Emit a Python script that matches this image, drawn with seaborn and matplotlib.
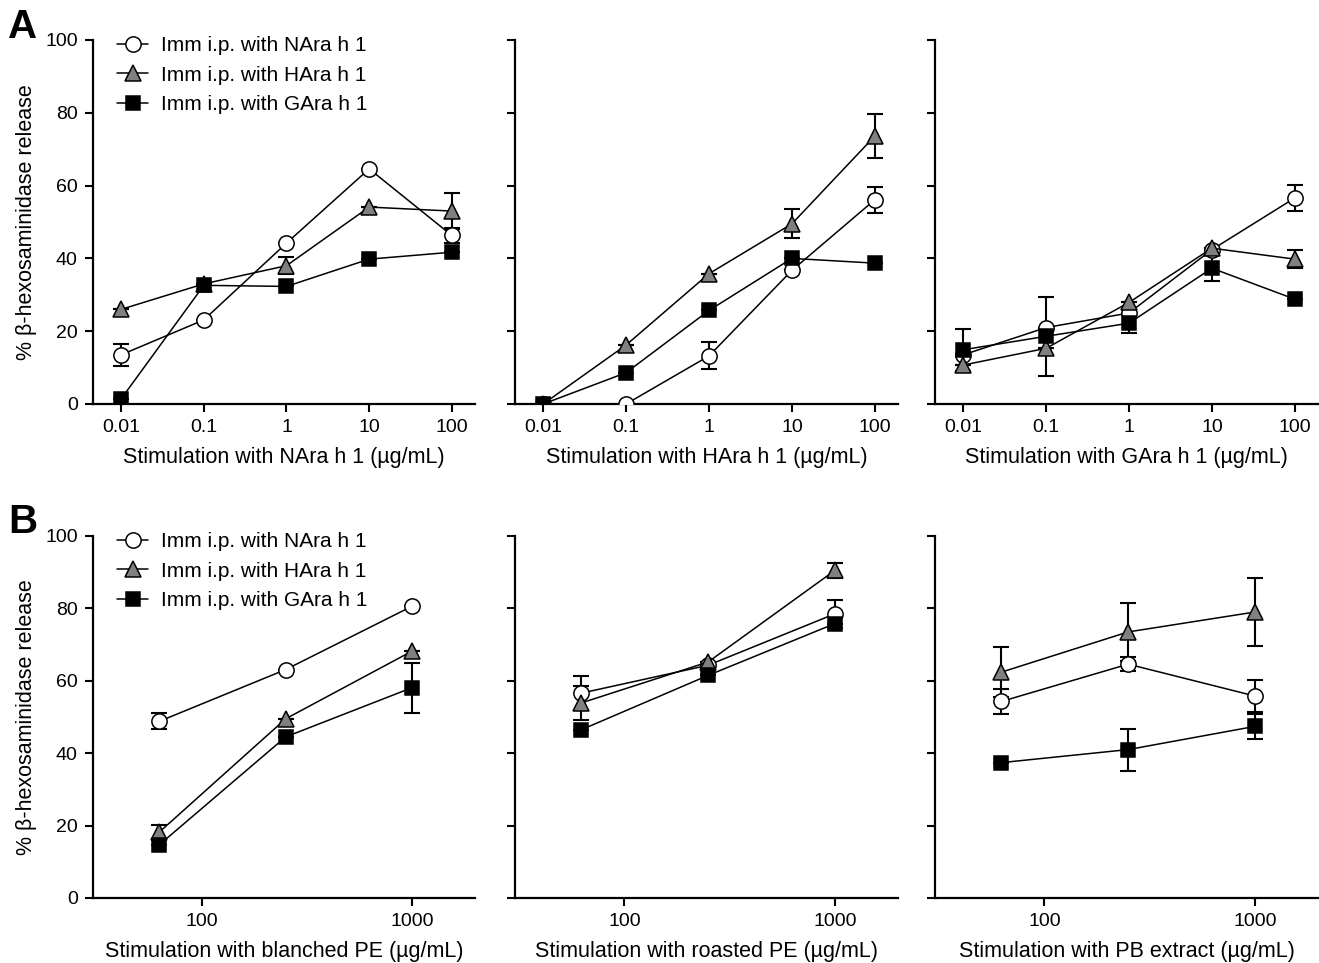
import numpy as np
import pandas as pd
import matplotlib
matplotlib.use("Agg")
import matplotlib.pyplot as plt
import seaborn as sns

sns.set_theme(style="ticks")
plt.rcParams['font.family'] = ['Liberation Sans', 'DejaVu Sans']
plt.rcParams['text.color'] = 'black'
plt.rcParams['axes.labelcolor'] = 'black'

# ---- data ----
conc_a = [0.01, 0.1, 1, 10, 100]
conc_b = [62.5, 250, 1000]
groups = ['Imm i.p. with NAra h 1', 'Imm i.p. with HAra h 1', 'Imm i.p. with GAra h 1']

# panel A: stimulation with NAra h 1 / HAra h 1 / GAra h 1
a1_mean = {'N': [13.5, 23.1, 44.2, 64.6, 46.3], 'H': [26.0, 33.0, 38.0, 54.1, 53.0], 'G': [1.4, 32.6, 32.3, 39.8, 41.7]}
a1_err = {'N': [3.0, 0, 0, 0, 2.0], 'H': [0, 0, 2.4, 0, 5.0], 'G': [0, 0, 0, 0, 0]}
a2_mean = {'N': [0.0, 0.0, 13.2, 36.7, 56.1], 'H': [0.0, 16.2, 35.8, 49.5, 73.6], 'G': [0.0, 8.6, 25.7, 40.0, 38.7]}
a2_err = {'N': [0, 0, 3.7, 0, 3.5], 'H': [0, 0, 0, 4.0, 6.0], 'G': [0, 0, 0, 0, 0]}
a3_mean = {'N': [13.5, 21.0, 25.0, 42.4, 56.6], 'H': [10.7, 15.3, 27.9, 42.8, 39.8], 'G': [14.9, 18.6, 22.2, 37.3, 28.8]}
a3_err = {'N': [0, 0, 0, 0, 3.5], 'H': [0, 0, 0, 0, 2.4], 'G': [5.7, 10.9, 2.7, 3.6, 0]}
# panel B: stimulation with blanched PE / roasted PE / PB extract
b1_mean = {'N': [48.8, 63.1, 80.6], 'H': [18.2, 49.5, 68.2], 'G': [14.7, 44.5, 58.1]}
b1_err = {'N': [2.2, 0, 0], 'H': [2.0, 0, 0], 'G': [0, 0, 6.9]}
b2_mean = {'N': [56.6, 64.3, 78.5], 'H': [53.9, 65.2, 90.5], 'G': [46.5, 61.5, 75.8]}
b2_err = {'N': [4.6, 0, 3.9], 'H': [4.8, 0, 2.0], 'G': [0, 0, 0]}
b3_mean = {'N': [54.3, 64.6, 55.8], 'H': [62.4, 73.5, 79.0], 'G': [37.4, 41.0, 47.4]}
b3_err = {'N': [3.5, 2.0, 4.5], 'H': [6.8, 8.0, 9.4], 'G': [0, 5.8, 3.5]}

xlabels_a = ['Stimulation with NAra h 1 (µg/mL)', 'Stimulation with HAra h 1 (µg/mL)',
             'Stimulation with GAra h 1 (µg/mL)']
xlabels_b = ['Stimulation with blanched PE (µg/mL)', 'Stimulation with roasted PE (µg/mL)',
             'Stimulation with PB extract (µg/mL)']

styles = {'N': ('o', 'white', 11), 'H': ('^', '#808080', 12), 'G': ('s', 'black', 10.5)}


def draw_panel(ax, conc, means, errs):
    for key, label in zip(['N', 'H', 'G'], groups):
        mk, fc, ms = styles[key]
        df = pd.DataFrame({'conc': conc, 'val': means[key]})
        ax.errorbar(conc, means[key], yerr=errs[key], fmt='none', ecolor='black',
                    elinewidth=1.5, capsize=6, capthick=1.5, zorder=2)
        sns.lineplot(data=df, x='conc', y='val', ax=ax, color='black', lw=1.1,
                     marker=mk, markersize=ms, markerfacecolor=fc,
                     markeredgecolor='black', markeredgewidth=1.1, label=label, zorder=3)


fig = plt.figure(figsize=(13.19, 9.63), dpi=100)
W, H = 1319, 963
lefts = [93, 515, 935]
right_ends = [475, 898, 1318]

rows = [
    (40, 404, conc_a, [(a1_mean, a1_err), (a2_mean, a2_err), (a3_mean, a3_err)], xlabels_a,
     (10 ** -2.34, 10 ** 2.28), conc_a, ['0.01', '0.1', '1', '10', '100']),
    (536, 898, conc_b, [(b1_mean, b1_err), (b2_mean, b2_err), (b3_mean, b3_err)], xlabels_b,
     (10 ** 1.48, 10 ** 3.3), [100, 1000], ['100', '1000']),
]

for r, (top, bot, conc, panels, xlabs, xlim, xt, xtl) in enumerate(rows):
    for i in range(3):
        ax = fig.add_axes([lefts[i] / W, 1 - bot / H, (right_ends[i] - lefts[i]) / W, (bot - top) / H])
        means, errs = panels[i]
        draw_panel(ax, conc, means, errs)
        ax.set_xscale('log')
        ax.set_xlim(*xlim)
        ax.set_ylim(0, 100)
        ax.set_xticks(xt)
        ax.set_xticklabels(xtl)
        ax.xaxis.set_minor_locator(matplotlib.ticker.NullLocator())
        ax.set_yticks([0, 20, 40, 60, 80, 100])
        sns.despine(ax=ax)
        for s in ['left', 'bottom']:
            ax.spines[s].set_linewidth(1.6)
            ax.spines[s].set_color('black')
        ax.tick_params(axis='both', direction='out', length=6, width=1.5, colors='black',
                       labelsize=14, pad=5)
        ax.set_xlabel(xlabs[i], fontsize=15.5, labelpad=8, color='black')
        if i == 0:
            ax.set_ylabel('% β-hexosaminidase release', fontsize=15.5, labelpad=6, color='black')
            leg = ax.legend(loc='upper left', bbox_to_anchor=(0.03, 1.045), frameon=False,
                            fontsize=15, handlelength=1.5, handletextpad=0.6, labelspacing=0.5,
                            borderaxespad=0.2)
            for t in leg.get_texts():
                t.set_color('black')
        else:
            ax.set_ylabel('')
            ax.set_yticklabels([])
            leg = ax.get_legend()
            if leg is not None:
                leg.remove()

fig.text(8 / W, 1 - 27 / H, 'A', fontsize=29, fontweight='bold', va='center', ha='left')
fig.text(8 / W, 1 - 522 / H, 'B', fontsize=29, fontweight='bold', va='center', ha='left')

fig.savefig('out.png', dpi=100)
